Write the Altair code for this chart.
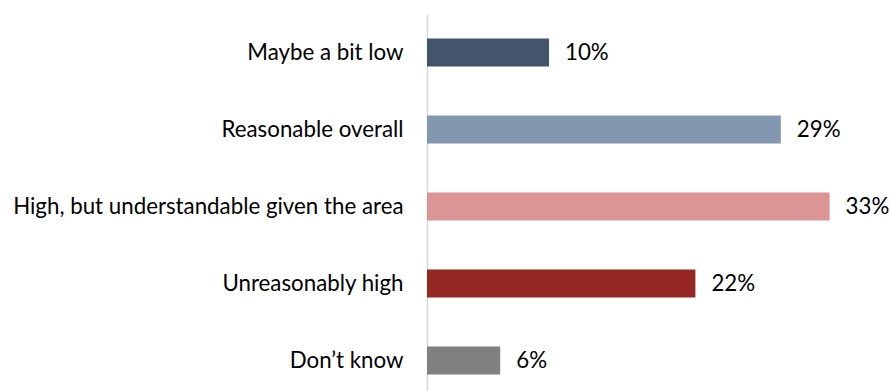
import altair as alt
import pandas as pd

categories = ["Maybe a bit low", "Reasonable overall", "High, but understandable given the area",
              "Unreasonably high", "Don\u2019t know"]
values = [0.10, 0.29, 0.33, 0.22, 0.06]
colors = ["#44546A", "#8497B0", "#DB9595", "#962621", "#808080"]

df = pd.DataFrame({"cat": categories, "val": values, "color": colors})

base = alt.Chart(df).encode(
    y=alt.Y("cat:N", sort=categories, title=None,
            scale=alt.Scale(paddingInner=0.636, paddingOuter=0.266, align=0.6),
            axis=alt.Axis(domainColor="#D9D9D9", domainWidth=1.5, ticks=False,
                          labelFont="Lato", labelFontSize=22.3, labelColor="#000000",
                          labelPadding=24, labelLimit=500)),
)

bars = base.mark_bar().encode(
    x=alt.X("val:Q", scale=alt.Scale(domain=[0, 0.3795], nice=False), axis=None),
    color=alt.Color("color:N", scale=None),
)

labels = base.mark_text(align="left", dx=16, font="Lato", fontSize=22.3, color="#000000").encode(
    x=alt.X("val:Q"),
    text=alt.Text("val:Q", format=".0%"),
)

chart = (bars + labels).properties(
    width=463, height=377,
    autosize=alt.AutoSizeParams(type="none"),
    padding={"left": 427, "top": 14, "right": 0, "bottom": 0},
).configure(background="white").configure_view(stroke=None)

chart.save("out.html", embed_options={"renderer": "svg", "actions": False})
